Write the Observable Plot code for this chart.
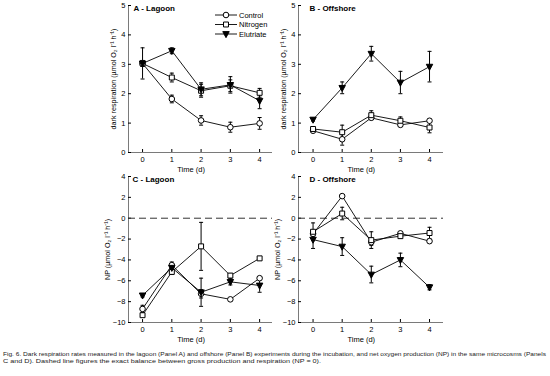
<!DOCTYPE html>
<html><head><meta charset="utf-8">
<script src="https://cdn.jsdelivr.net/npm/d3@7"></script>
<script src="https://cdn.jsdelivr.net/npm/@observablehq/plot@0.6"></script>
<style>
body{margin:0;background:#fff;}
#fig{position:relative;width:550px;height:376px;overflow:hidden;font-family:"Liberation Sans",Arial,sans-serif;background:#fff;}
#fig > svg{position:absolute;}
</style></head><body><div id="fig"></div>
<script>
// ---------- data ----------
const time = [0, 1, 2, 3, 4];
const seriesNames = ["Control", "Nitrogen", "Elutriate"];
const panelTitles = ["A - Lagoon", "B - Offshore", "C - Lagoon", "D - Offshore"];
const respLabel = "dark respiration (µmol O₂ l⁻¹ h⁻¹)";
const npLabel = "NP (µmol O₂ l⁻¹ h⁻¹)";
const timeLabel = "Time (d)";
const respTicks = [0, 1, 2, 3, 4, 5];
const npTicks = [-10, -8, -6, -4, -2, 0, 2, 4];

// Panel A: lagoon dark respiration
const lagRespControl = [3.03, 1.82, 1.09, 0.86, 0.99];
const lagRespControlErr = [0.10, 0.13, 0.16, 0.17, 0.20];
const lagRespNitrogen = [3.03, 2.55, 2.10, 2.27, 2.03];
const lagRespNitrogenErr = [0.10, 0.15, 0.22, 0.20, 0.15];
const lagRespElutriate = [3.03, 3.46, 2.15, 2.30, 1.76];
const lagRespElutriateErr = [0.53, 0.10, 0.22, 0.28, 0.27];

// Panel B: offshore dark respiration
const offRespControl = [0.74, 0.45, 1.18, 0.94, 1.08];
const offRespControlErr = [0.06, 0.20, 0.06, 0.06, 0.05];
const offRespNitrogen = [0.80, 0.69, 1.27, 1.08, 0.85];
const offRespNitrogenErr = [0.06, 0.24, 0.15, 0.13, 0.18];
const offRespElutriate = [1.12, 2.20, 3.36, 2.38, 2.92];
const offRespElutriateErr = [0.05, 0.20, 0.25, 0.38, 0.52];

// Panel C: lagoon net oxygen production
const lagNPControl = [-8.70, -4.50, -7.25, -7.78, -5.75];
const lagNPControlErr = [0.35, 0.30, 0.40, 0.10, 0.15];
const lagNPNitrogen = [-9.30, -5.15, -2.70, -5.50, -3.85];
const lagNPNitrogenErr = [0.15, 0.25, 2.30, 0.20, 0.10];
const lagNPElutriate = [-7.40, -4.75, -7.10, -6.10, -6.45];
const lagNPElutriateErr = [0.15, 0.35, 1.35, 0.30, 0.65];

// Panel D: offshore net oxygen production
const offNPControl = [-1.50, 2.12, -2.30, -1.45, -2.20];
const offNPControlErr = [0.30, 0.10, 0.30, 0.15, 0.15];
const offNPNitrogen = [-1.30, 0.45, -2.10, -1.72, -1.42];
const offNPNitrogenErr = [0.85, 0.60, 0.80, 0.20, 0.55];
const offNPElutriate = [-2.05, -2.72, -5.40, -4.00, -6.62];
const offNPElutriateErr = [0.85, 0.85, 0.80, 0.65, 0.25];

const caption1 = "Fig. 6. Dark respiration rates measured in the lagoon (Panel A) and offshore (Panel B) experiments during the incubation, and net oxygen production (NP) in the same microcosms (Panels";
const caption2 = "C and D). Dashed line figures the exact balance between gross production and respiration (NP = 0).";

// ---------- symbols ----------
const downTriangle = {draw(ctx, size) {
  const r = Math.sqrt(size / Math.PI);
  ctx.moveTo(-1.15 * r, -0.85 * r);
  ctx.lineTo(1.15 * r, -0.85 * r);
  ctx.lineTo(0, 1.3 * r);
  ctx.closePath();
}};
const capSymbol = {draw(ctx, size) {
  const r = Math.sqrt(size / Math.PI);
  ctx.moveTo(-r, 0);
  ctx.lineTo(r, 0);
}};
const seriesStyle = {
  Control: {symbol: "circle", fill: "white"},
  Nitrogen: {symbol: "square", fill: "white"},
  Elutriate: {symbol: downTriangle, fill: "black"}
};
const axisColor = "#7a7a7a";
const fig = document.getElementById("fig");

function panel(cfg) {
  const rows = [];
  cfg.series.forEach(s => s.values.forEach((v, i) => rows.push({
    series: s.name, t: time[i], v, lo: v - s.err[i], hi: v + s.err[i]
  })));
  const [x0, x1] = cfg.xDomain, [y0, y1] = cfg.yDomain;
  const marks = [
    Plot.ruleX([x0], {y1: y0, y2: y1, stroke: axisColor, strokeWidth: 1}),
    Plot.ruleY([y0], {x1: x0, x2: x1, stroke: axisColor, strokeWidth: 1}),
    Plot.axisY(cfg.yTicks, {tickSize: 3, dx: 3, tickPadding: 3, label: null, fontSize: 7.5}),
    Plot.axisX(time, {tickSize: 3, dy: -3, tickPadding: 4, label: null, fontSize: 7.5}),
  ];
  if (cfg.zeroLine) marks.push(Plot.ruleY([0], {x1: x0, x2: x1, stroke: "#333", strokeWidth: 1, strokeDasharray: "7,4"}));
  for (const name of seriesNames) {
    marks.push(Plot.line(rows.filter(d => d.series === name), {x: "t", y: "v", stroke: "black", strokeWidth: 0.9}));
  }
  for (const name of seriesNames) {
    const r = rows.filter(d => d.series === name);
    marks.push(Plot.ruleX(r, {x: "t", y1: "lo", y2: "hi", stroke: "black", strokeWidth: 1}));
    marks.push(Plot.dot(r, {x: "t", y: "lo", symbol: capSymbol, r: 2, stroke: "black", strokeWidth: 1}));
    marks.push(Plot.dot(r, {x: "t", y: "hi", symbol: capSymbol, r: 2, stroke: "black", strokeWidth: 1}));
  }
  for (const name of seriesNames) {
    const st = seriesStyle[name];
    marks.push(Plot.dot(rows.filter(d => d.series === name), {x: "t", y: "v", symbol: st.symbol, r: 2.8, fill: st.fill, stroke: "black", strokeWidth: 1}));
  }
  marks.push(Plot.text([cfg.title], {frameAnchor: "top-left", dx: cfg.titleDx, dy: 2.5, textAnchor: "start", lineAnchor: "middle", fontWeight: "bold", fontSize: 8}));
  marks.push(Plot.text([cfg.yLabel], {frameAnchor: "left", rotate: -90, dx: cfg.yLabelDx, textAnchor: "middle", lineAnchor: "middle", fontSize: 7.2}));
  marks.push(Plot.text([timeLabel], {x: 2, frameAnchor: "bottom", dy: 17, dx: -10, textAnchor: "middle", lineAnchor: "middle", fontSize: 7.5}));

  const svg = Plot.plot({
    width: cfg.width, height: cfg.height,
    marginLeft: cfg.mL, marginRight: cfg.mR, marginTop: cfg.mT, marginBottom: cfg.mB,
    x: {domain: cfg.xDomain},
    y: {domain: cfg.yDomain},
    style: {background: "transparent", fontFamily: "'Liberation Sans', Arial, sans-serif", color: "black", overflow: "visible"},
    marks
  });
  svg.style.left = cfg.left + "px";
  svg.style.top = cfg.top + "px";
  fig.appendChild(svg);
  return svg;
}

const mk = (c, n, e) => [
  {name: "Control", values: c[0], err: c[1]},
  {name: "Nitrogen", values: n[0], err: n[1]},
  {name: "Elutriate", values: e[0], err: e[1]}
];

panel({left: 0, top: 0, width: 280, height: 180, mL: 128, mR: 8, mT: 5, mB: 28,
  xDomain: [-0.48, 4.44], yDomain: [0, 5], yTicks: respTicks,
  title: panelTitles[0], titleDx: 5, yLabel: respLabel, yLabelDx: -15,
  series: mk([lagRespControl, lagRespControlErr], [lagRespNitrogen, lagRespNitrogenErr], [lagRespElutriate, lagRespElutriateErr])});
panel({left: 270, top: 0, width: 180, height: 180, mL: 28, mR: 7, mT: 5, mB: 28,
  xDomain: [-0.5, 4.48], yDomain: [0, 5], yTicks: respTicks,
  title: panelTitles[1], titleDx: 11, yLabel: respLabel, yLabelDx: -15,
  series: mk([offRespControl, offRespControlErr], [offRespNitrogen, offRespNitrogenErr], [offRespElutriate, offRespElutriateErr])});
panel({left: 0, top: 170, width: 280, height: 180, mL: 128, mR: 8, mT: 6, mB: 28,
  xDomain: [-0.48, 4.44], yDomain: [-10, 4], yTicks: npTicks, zeroLine: true,
  title: panelTitles[2], titleDx: 4, yLabel: npLabel, yLabelDx: -21,
  series: mk([lagNPControl, lagNPControlErr], [lagNPNitrogen, lagNPNitrogenErr], [lagNPElutriate, lagNPElutriateErr])});
panel({left: 270, top: 170, width: 180, height: 180, mL: 28, mR: 7, mT: 6, mB: 28,
  xDomain: [-0.5, 4.48], yDomain: [-10, 4], yTicks: npTicks, zeroLine: true,
  title: panelTitles[3], titleDx: 11, yLabel: npLabel, yLabelDx: -21,
  series: mk([offNPControl, offNPControlErr], [offNPNitrogen, offNPNitrogenErr], [offNPElutriate, offNPElutriateErr])});

// ---------- legend (panel A) ----------
const leg = d3.select(fig).append("svg").attr("width", 80).attr("height", 40)
  .style("left", "210px").style("top", "8px").style("position", "absolute");
const symTypes = {Control: d3.symbolCircle, Nitrogen: d3.symbolSquare, Elutriate: downTriangle};
seriesNames.forEach((name, i) => {
  const y = 7 + i * 9.5;
  const g = leg.append("g").attr("transform", `translate(0,${y})`);
  g.append("line").attr("x1", 5).attr("x2", 27).attr("y1", 0).attr("y2", 0).attr("stroke", "black").attr("stroke-width", 0.9);
  g.append("path").attr("transform", "translate(16,0)")
    .attr("d", d3.symbol().type(symTypes[name]).size(2.8 * 2.8 * Math.PI)())
    .attr("fill", seriesStyle[name].fill).attr("stroke", "black").attr("stroke-width", 1);
  g.append("text").attr("x", 29).attr("y", 0).attr("dy", "0.35em")
    .attr("font-size", 7.5).attr("font-family", "'Liberation Sans', Arial, sans-serif").text(name);
});

// ---------- caption ----------
const cap = d3.select(fig).append("svg").attr("width", 550).attr("height", 30)
  .style("left", "0px").style("top", "346px").style("position", "absolute");
cap.append("text").attr("x", 3).attr("y", 10).attr("font-size", 6.2)
  .attr("font-family", "'Liberation Sans', Arial, sans-serif").attr("fill", "#222")
  .attr("textLength", 543).attr("lengthAdjust", "spacingAndGlyphs").text(caption1);
cap.append("text").attr("x", 3).attr("y", 17).attr("font-size", 6.2)
  .attr("font-family", "'Liberation Sans', Arial, sans-serif").attr("fill", "#222")
  .attr("textLength", 318).attr("lengthAdjust", "spacingAndGlyphs").text(caption2);
</script></body></html>
